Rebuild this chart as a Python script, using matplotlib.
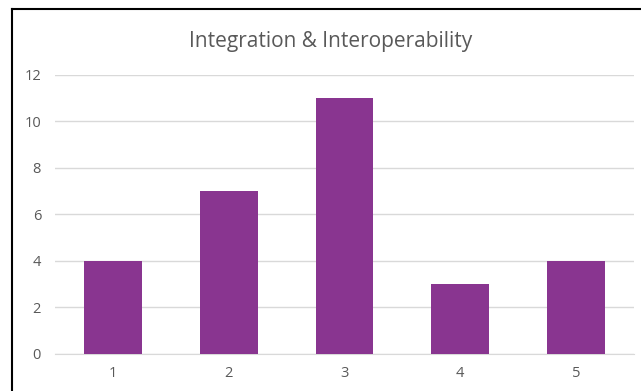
import matplotlib.pyplot as plt
from matplotlib.lines import Line2D

# Antworten pro Bewertungsstufe
categories = ['1', '2', '3', '4', '5']
counts = [4, 7, 11, 3, 4]
yticks = [0, 2, 4, 6, 8, 10, 12]

plt.rcParams['font.family'] = ['Open Sans', 'DejaVu Sans']

fig = plt.figure(figsize=(6.41, 3.91), dpi=100)
ax = fig.add_axes([55 / 641, 1 - 353.5 / 391, (634 - 55) / 641, (353.5 - 75) / 391])

x = range(len(categories))
ax.bar(x, counts, width=0.5, color='#893590', zorder=3)

ax.set_xlim(-0.5, len(categories) - 0.5)
ax.set_ylim(0, 12)
ax.set_yticks(yticks)
ax.set_xticks(list(x))
ax.set_xticklabels(categories)
ax.grid(axis='y', color='#D9D9D9', linewidth=1, zorder=0)
for side in ['top', 'right', 'left']:
    ax.spines[side].set_visible(False)
ax.spines['bottom'].set_color('#D9D9D9')
ax.tick_params(axis='both', length=0, colors='#595959', labelsize=10.5)
ax.tick_params(axis='x', pad=9)
ax.tick_params(axis='y', pad=10)

fig.text(331 / 641, 1 - 42 / 391, 'Integration & Interoperability', ha='center', va='center',
         fontsize=15, color='#595959')

# Rahmen oben und links
fig.add_artist(Line2D([11.5 / 641, 11.5 / 641], [0, 1 - 8.5 / 391], color='black', linewidth=1.5,
                      transform=fig.transFigure))
fig.add_artist(Line2D([11.5 / 641, 1], [1 - 8.5 / 391, 1 - 8.5 / 391], color='black', linewidth=1.5,
                      transform=fig.transFigure))

fig.savefig('out.png', dpi=100)
